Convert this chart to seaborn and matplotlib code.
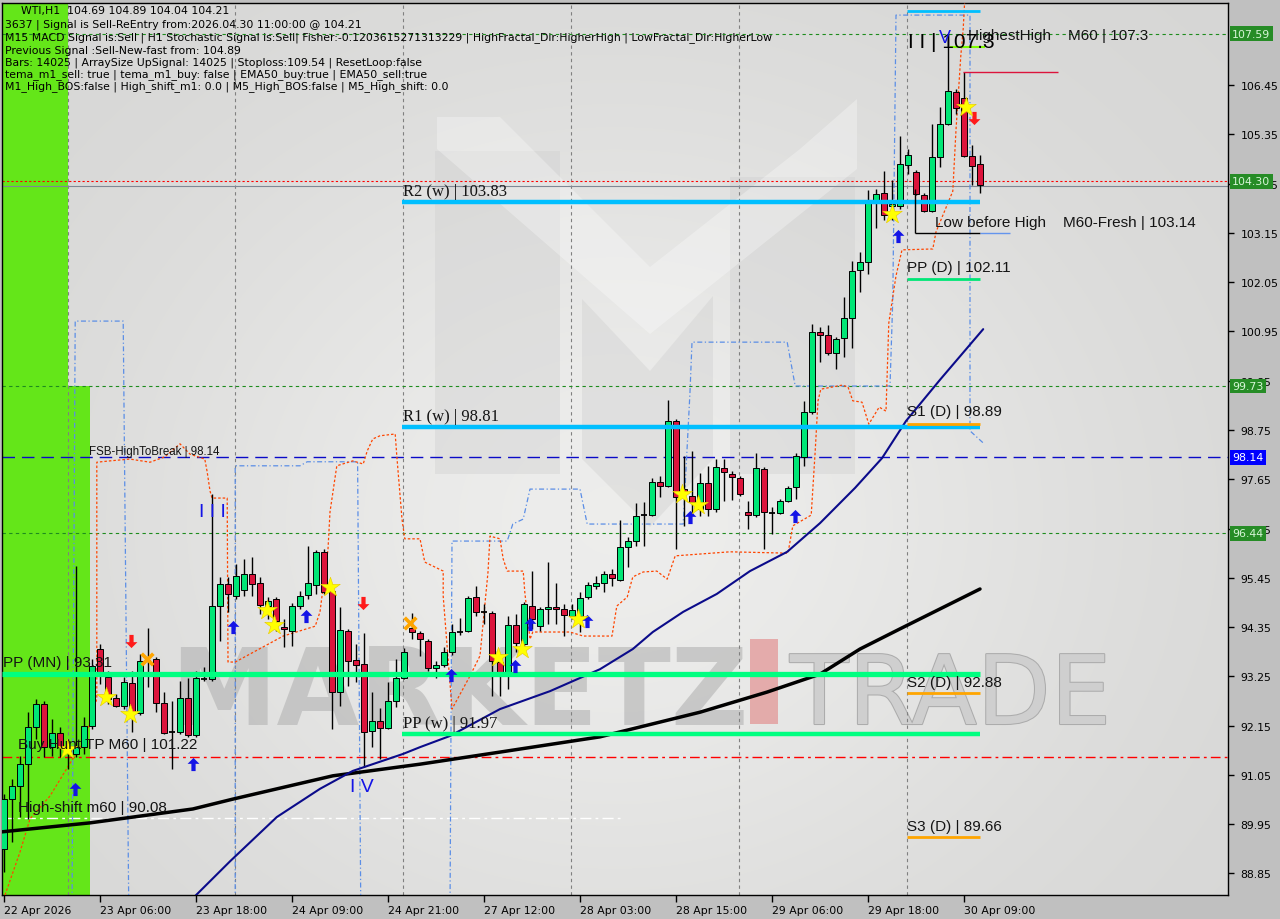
import numpy as np
import pandas as pd
import matplotlib
matplotlib.use("Agg")
import matplotlib.pyplot as plt
import seaborn as sns
from matplotlib.path import Path
from matplotlib.patches import Rectangle, Polygon
from matplotlib.transforms import blended_transform_factory
import matplotlib.patheffects as pe

# ---------------- data ----------------
opens = [89.40, 90.51, 90.80, 91.29, 92.12, 92.63, 91.67, 91.99, 91.67, 91.52,
         91.67, 92.14, 93.86, 93.24, 92.77, 92.59, 93.10, 92.43, 93.59, 93.64,
         92.66, 92.00, 92.01, 92.77, 91.94, 93.20, 93.19, 94.82, 95.31, 95.04,
         95.18, 95.54, 95.33, 94.82, 94.98, 94.35, 94.26, 94.82, 95.07, 95.29,
         96.03, 95.16, 92.90, 94.26, 93.62, 93.53, 92.03, 92.25, 92.10, 92.70,
         93.21, 94.33, 94.22, 94.04, 93.44, 93.50, 93.79, 94.23, 94.26, 95.02,
         94.68, 94.66, 93.57, 93.35, 94.40, 93.97, 94.82, 94.37, 94.75, 94.80,
         94.75, 94.60, 94.60, 95.02, 95.27, 95.33, 95.54, 95.40, 96.14, 96.27,
         96.85, 96.85, 97.59, 97.50, 98.95, 97.43, 97.28, 96.99, 97.57, 96.99,
         97.90, 97.77, 97.68, 96.92, 96.85, 97.88, 96.90, 96.90, 97.16, 97.48,
         98.15, 99.15, 100.94, 100.87, 100.47, 100.80, 101.25, 102.32, 102.50, 103.88,
         104.04, 103.75, 103.75, 104.67, 104.51, 104.00, 103.64, 104.84, 105.58, 106.29,
         106.16, 104.87, 104.69]
highs = [90.62, 90.96, 91.47, 92.45, 92.75, 92.70, 92.30, 92.12, 91.85, 95.71,
         92.34, 93.64, 93.97, 93.37, 92.86, 93.24, 93.37, 93.75, 94.33, 93.68,
         92.90, 92.70, 93.15, 93.21, 93.37, 93.46, 97.32, 95.47, 95.47, 95.76,
         95.87, 95.92, 95.47, 95.02, 95.02, 94.53, 94.89, 95.16, 96.16, 96.07,
         96.09, 95.31, 94.80, 94.31, 93.97, 94.22, 92.90, 92.54, 93.12, 93.64,
         93.88, 94.66, 94.26, 94.08, 93.59, 93.91, 94.42, 94.55, 95.04, 95.27,
         94.87, 94.71, 93.75, 94.60, 94.64, 94.91, 95.60, 94.80, 95.80, 95.33,
         94.87, 94.87, 95.13, 95.36, 95.49, 95.60, 95.65, 96.74, 96.36, 97.12,
         97.14, 97.68, 97.72, 99.42, 98.99, 98.17, 98.28, 97.79, 97.94, 98.10,
         98.10, 97.83, 97.72, 97.16, 98.24, 97.92, 97.03, 97.21, 97.50, 98.24,
         99.40, 101.12, 101.05, 101.09, 100.83, 101.72, 102.52, 102.72, 104.11, 104.13,
         104.53, 104.33, 105.31, 105.02, 104.55, 104.04, 105.58, 105.96, 107.30, 106.36,
         106.74, 105.11, 104.89]
lows = [88.88, 89.55, 90.11, 90.07, 91.85, 91.45, 91.47, 91.45, 91.18, 91.45,
        91.52, 92.08, 93.08, 92.63, 92.57, 92.52, 92.01, 92.39, 93.01, 92.45,
        91.96, 91.18, 91.96, 91.90, 91.90, 93.15, 93.15, 94.04, 94.69, 94.98,
        95.04, 95.04, 94.64, 94.53, 94.26, 93.91, 93.93, 94.75, 94.98, 95.09,
        95.09, 92.08, 92.59, 93.04, 93.12, 91.23, 91.67, 91.41, 92.08, 92.57,
        93.19, 94.08, 93.70, 93.37, 93.21, 93.46, 93.73, 94.17, 94.24, 94.60,
        94.42, 92.81, 92.81, 92.97, 93.79, 93.86, 94.31, 94.26, 94.42, 94.42,
        94.15, 94.53, 94.24, 94.98, 95.20, 95.13, 95.27, 95.38, 95.69, 96.16,
        96.16, 96.83, 97.25, 97.48, 96.09, 96.61, 96.87, 96.83, 96.83, 96.92,
        97.16, 97.19, 97.28, 96.54, 96.81, 96.09, 96.43, 96.87, 97.14, 97.21,
        97.95, 99.11, 100.27, 100.42, 100.11, 100.38, 100.58, 101.83, 102.23, 103.26,
        103.44, 103.44, 103.68, 104.46, 104.00, 103.62, 103.62, 104.62, 105.56, 105.80,
        104.84, 104.22, 104.04]
closes = [90.51, 90.80, 91.29, 92.12, 92.63, 91.67, 91.99, 91.67, 91.58, 91.67,
          92.14, 93.48, 93.35, 92.75, 92.59, 93.12, 92.45, 93.59, 93.60, 92.66,
          91.99, 92.00, 92.77, 91.94, 93.21, 93.20, 94.82, 95.31, 95.09, 95.49,
          95.54, 95.31, 94.84, 94.93, 94.49, 94.31, 94.82, 95.04, 95.33, 96.03,
          95.13, 92.90, 94.29, 93.59, 93.50, 92.01, 92.25, 92.10, 92.70, 93.21,
          93.79, 94.24, 94.08, 93.44, 93.50, 93.79, 94.24, 94.23, 95.00, 94.69,
          94.68, 93.59, 93.35, 94.40, 93.99, 94.87, 94.53, 94.75, 94.80, 94.75,
          94.62, 94.73, 95.00, 95.29, 95.33, 95.54, 95.45, 96.14, 96.27, 96.83,
          96.85, 97.59, 97.50, 98.95, 97.25, 97.34, 97.14, 97.57, 96.99, 97.92,
          97.81, 97.70, 97.32, 96.85, 97.90, 96.92, 96.90, 97.16, 97.46, 98.17,
          99.15, 100.94, 100.87, 100.47, 100.78, 101.25, 102.30, 102.50, 103.88, 104.02,
          103.55, 103.79, 104.69, 104.89, 104.02, 103.64, 104.84, 105.58, 106.32, 105.94,
          104.87, 104.64, 104.21]

tick_idx = [0, 12, 24, 36, 48, 60, 72, 84, 96, 108, 120]
tick_labels = ["22 Apr 2026", "23 Apr 06:00", "23 Apr 18:00", "24 Apr 09:00",
               "24 Apr 21:00", "27 Apr 12:00", "28 Apr 03:00", "28 Apr 15:00",
               "29 Apr 06:00", "29 Apr 18:00", "30 Apr 09:00"]
price_ticks = [88.85, 89.95, 91.05, 92.15, 93.25, 94.35, 95.45, 96.55, 97.65,
               98.75, 99.85, 100.95, 102.05, 103.15, 104.25, 105.35, 106.45]
day_separators = [8.0, 28.9, 49.9, 70.9, 91.9, 112.9]

ema_x = [22.5, 28.3, 34.1, 39.5, 43.6, 49.9, 52.0, 55.75, 62.0, 68.25, 74.5, 78.6,
         81.1, 84.9, 89.1, 93.25, 97.9, 102.0, 106.4, 109.75, 112.75, 117.0, 122.4]
ema_y = [88.10, 89.13, 90.11, 90.74, 91.14, 91.52, 91.67, 91.92, 92.52, 92.92, 93.41,
         93.86, 94.24, 94.69, 95.09, 95.60, 96.03, 96.67, 97.46, 98.12, 98.95, 99.87, 101.00]
sma_x = [-0.25, 10.75, 23.6, 28.6, 41.1, 52.0, 62.0, 74.5, 87.0, 95.4, 102.0, 107.0, 112.0, 122.0]
sma_y = [89.78, 89.98, 90.29, 90.51, 91.03, 91.29, 91.56, 91.90, 92.45, 92.90, 93.30, 93.86, 94.31, 95.20]

blueA_x = [8.5, 8.9, 14.9, 15.6]
blueA_y = [88.0, 101.18, 101.18, 88.0]
blueB_x = [28.9, 28.9, 37.0, 37.9, 44.2, 44.6]
blueB_y = [88.0, 97.95, 97.95, 98.04, 98.04, 88.0]
blueC_x = [55.75, 56.0, 62.9, 63.6, 64.9, 65.75, 72.0, 72.9, 84.9, 85.75, 86.0, 97.9,
           98.9, 110.75, 111.1, 111.5, 120.75, 120.75, 122.4]
blueC_y = [88.0, 96.27, 96.27, 96.65, 96.76, 97.43, 97.43, 96.65, 96.65, 99.60, 100.71,
           100.71, 99.73, 99.73, 101.67, 108.01, 108.01, 98.73, 98.46]
orange_x = [0.125, 2.0, 3.25, 5.75, 10.1, 11.6, 11.6, 13.25, 15.75, 18.25, 20.1, 22.0,
            23.25, 25.1, 25.4, 25.75, 26.0, 27.9, 28.0, 28.9, 34.9, 38.9, 39.5, 40.5,
            40.75, 41.6, 43.6, 44.9, 45.4, 46.1, 47.0, 48.9, 49.1, 49.75, 50.1, 52.0,
            52.6, 54.9, 54.9, 56.0, 58.25, 59.5, 60.5, 60.75, 62.0, 62.4, 62.9, 64.9,
            65.1, 65.75, 66.1, 70.75, 72.4, 76.0, 76.6, 77.9, 78.6, 79.9, 81.6, 82.9,
            83.9, 90.75, 98.0, 98.6, 100.9, 101.4, 101.75, 102.1, 104.75, 105.5, 106.1,
            107.25, 108.1, 109.4, 110.25, 110.6, 111.5, 112.25, 116.1, 116.5, 118.6,
            119.0, 119.6, 119.9, 120.1]
orange_y = [88.37, 89.33, 90.07, 90.58, 91.85, 92.75, 98.03, 98.06, 98.10, 98.03, 98.15,
            98.44, 98.21, 98.10, 97.81, 97.39, 97.23, 97.23, 93.57, 93.57, 94.15, 94.37,
            94.69, 96.09, 96.92, 97.95, 98.06, 97.99, 98.28, 98.55, 98.62, 98.66, 98.17,
            96.76, 96.32, 96.32, 95.80, 95.60, 95.04, 92.52, 93.26, 93.71, 95.58, 96.38,
            96.32, 95.87, 95.60, 95.60, 95.13, 94.08, 94.24, 94.24, 94.15, 94.15, 94.82,
            95.02, 95.47, 95.58, 95.60, 95.42, 95.94, 96.03, 96.00, 96.61, 96.85, 98.28,
            99.40, 99.66, 99.75, 99.71, 99.40, 99.37, 98.88, 99.26, 99.17, 101.14, 102.19,
            102.77, 102.79, 103.17, 104.08, 105.45, 107.10, 107.70, 108.37]

up_x = [8.9, 23.6, 28.6, 37.75, 55.9, 63.9, 65.75, 72.9, 85.75, 98.9, 111.75]
up_y = [90.73, 91.29, 94.35, 94.60, 93.28, 93.48, 94.42, 94.49, 96.81, 96.83, 103.08]
down_x = [15.9, 44.9, 121.2]
down_y = [94.04, 94.89, 105.72]
star_x = [7.9, 12.75, 15.75, 32.9, 33.75, 40.75, 61.75, 64.75, 71.75, 84.75, 86.75, 111.0, 120.25]
star_y = [91.63, 92.79, 92.41, 94.73, 94.40, 95.24, 93.68, 93.86, 94.53, 97.32, 97.07, 103.57, 105.96]
cross_x = [17.9, 50.75]
cross_y = [93.64, 94.44]

info_lines = [
    "WTI,H1  104.69 104.89 104.04 104.21",
    "3637 | Signal is Sell-ReEntry from:2026.04.30 11:00:00 @ 104.21",
    "M15 MACD Signal is:Sell | H1 Stochastic Signal is:Sell| Fisher:-0.1203615271313229 | HighFractal_Dir:HigherHigh | LowFractal_Dir:HigherLow",
    "Previous Signal :Sell-New-fast from: 104.89",
    "Bars: 14025 | ArraySize UpSignal: 14025 | Stoploss:109.54 | ResetLoop:false",
    "tema_m1_sell: true | tema_m1_buy: false | EMA50_buy:true | EMA50_sell:true",
    "M1_High_BOS:false | High_shift_m1: 0.0 | M5_High_BOS:false | M5_High_shift: 0.0",
]

# ---------------- figure ----------------
sns.set_theme(style="white")
plt.rcParams['font.family'] = ['DejaVu Sans']

W, H = 1280, 920
fig = plt.figure(figsize=(12.8, 9.2), dpi=100, facecolor='#c0c0c0')
ax = fig.add_axes([2 / W, 24 / H, 1226 / W, 892 / H])
X0, X1 = -0.25, 153.0
Y0, Y1 = 88.37, 108.28

# background gradient
gx = np.linspace(0, 1, 320)
gy = np.linspace(0, 1, 240)
GX, GY = np.meshgrid(gx, gy)
v = 0.835 + 0.095 * np.exp(-(((GX - 0.50) / 0.42) ** 2 + ((GY - 0.58) / 0.50) ** 2))
img = np.dstack([v, v, v * 0.995])
ax.imshow(img, extent=[X0, X1, Y0, Y1], aspect='auto', origin='upper', zorder=0,
          interpolation='bilinear')


def axp(px, py):
    return ((px - 2) / 1226.0, 1 - (py - 4) / 892.0)


# watermark logo
logo_col = '#cfcfcf'
for poly, col, al in [
    ([(435, 152), (560, 152), (560, 475), (435, 475)], logo_col, 0.4),
    ([(730, 178), (855, 178), (855, 475), (730, 475)], logo_col, 0.4),
    ([(582, 300), (650, 372), (713, 297), (713, 460), (650, 528), (582, 460)], logo_col, 0.4),
    ([(437, 118), (500, 118), (650, 268), (800, 150), (857, 100), (857, 170), (650, 335), (437, 150)], 'white', 0.3),
]:
    ax.add_patch(Polygon([axp(*p) for p in poly], closed=True, transform=ax.transAxes,
                         fc=col, ec='none', alpha=al, zorder=1))

ax.text(*axp(170, 725), 'MARKETZ', transform=ax.transAxes, fontsize=77, fontweight='bold',
        color='#b4b4b4', alpha=0.62, ha='left', va='baseline', zorder=1)
ax.add_patch(Rectangle(axp(750, 725), 28 / 1226, 85 / 892, transform=ax.transAxes,
                       fc='#e39c9c', ec='none', alpha=0.8, zorder=1))
ax.text(*axp(790, 725), 'TRADE', transform=ax.transAxes, fontsize=69, color='#cfcfcf',
        ha='left', va='baseline', zorder=1,
        path_effects=[pe.withStroke(linewidth=1.5, foreground='#acacac')])

# green session blocks
ax.add_patch(Rectangle((X0, Y0), 8.0 - X0, Y1 - Y0, fc='#64e619', ec='none', zorder=1))
ax.add_patch(Rectangle((8.0, Y0), 2.75, 99.73 - Y0, fc='#64e619', ec='none', zorder=1))

# separators and level lines
for s in day_separators:
    ax.axvline(s, color='#808080', lw=0.8, ls=(0, (3, 3)), zorder=2)
for p in [107.59, 99.73, 96.44]:
    ax.axhline(p, color='#1e8c1e', lw=0.8, ls=(0, (3, 3)), zorder=2)
ax.axhline(104.30, color='#ff0000', lw=0.8, ls=(0, (2, 2)), zorder=2)
ax.axhline(104.20, color='#7f8894', lw=0.8, zorder=2)
ax.axhline(98.14, color='#0a0ac8', lw=1.0, ls=(0, (9, 5)), zorder=2)
ax.axhline(91.45, color='#ff0000', lw=1.0, ls=(0, (7, 3, 2, 3)), zorder=2)
ax.hlines(90.08, X0, 77, color='white', lw=1.0, ls=(0, (8, 3, 2, 3)), zorder=2)

# channel lines
for cx, cy in [(blueA_x, blueA_y), (blueB_x, blueB_y), (blueC_x, blueC_y)]:
    ax.plot(cx, cy, color='#5b8ee6', lw=0.9, ls=(0, (4, 2, 1, 2)), zorder=3)
ax.plot(orange_x, orange_y, color='#ff4500', lw=0.9, ls=(0, (2, 1.6)), zorder=3)

# candles
green_c, red_c = '#00e676', '#dc143c'
for i in range(len(opens)):
    o, h, l, c = opens[i], highs[i], lows[i], closes[i]
    ax.vlines(i, l, h, color='black', lw=1.0, zorder=5)
    if abs(c - o) < 0.03:
        ax.hlines(o, i - 0.38, i + 0.38, color='black', lw=1.3, zorder=5)
    else:
        ax.bar(i, c - o, bottom=o, width=0.76, color=green_c if c > o else red_c,
               edgecolor='black', linewidth=0.7, zorder=5)

# moving averages (seaborn)
sns.lineplot(x=sma_x, y=sma_y, ax=ax, color='black', lw=2.5, estimator=None,
             sort=False, legend=False, zorder=6)
sns.lineplot(x=ema_x, y=ema_y, ax=ax, color='#0b0b8a', lw=1.5, estimator=None,
             sort=False, legend=False, zorder=6)

# pivot lines
ax.hlines([103.83, 98.81], 49.75, 122, color='#00bfff', lw=3.2, zorder=6)
ax.hlines(91.97, 49.75, 122, color='#00ff80', lw=3.2, zorder=6)
ax.hlines(93.31, X0, 122, color='#00ff80', lw=3.8, zorder=6)
ax.hlines(102.11, 112.9, 122, color='#00e676', lw=2.0, zorder=6)
ax.hlines([98.89, 92.88, 89.66], 112.9, 122, color='#ffa500', lw=2.0, zorder=6)
ax.hlines(108.10, 112.9, 122, color='#00bfff', lw=2.0, zorder=6)

# small structure lines
ax.hlines(107.30, 118.25, 122.6, color='#7cfc00', lw=1.5, zorder=6)
ax.hlines(106.74, 119.9, 131.75, color='#dc143c', lw=1.0, zorder=6)
ax.vlines(113.9, 103.14, 104.13, color='black', lw=1.0, zorder=6)
ax.hlines(103.14, 113.9, 122, color='black', lw=1.0, zorder=6)
ax.hlines(103.14, 122, 125.75, color='#6495ed', lw=1.0, zorder=6)

# markers
up_path = Path([(0, 1), (-0.9, 0.1), (-0.32, 0.1), (-0.32, -1), (0.32, -1), (0.32, 0.1),
                (0.9, 0.1), (0, 1)], closed=True)
down_path = Path([(0, -1), (-0.9, -0.1), (-0.32, -0.1), (-0.32, 1), (0.32, 1), (0.32, -0.1),
                  (0.9, -0.1), (0, -1)], closed=True)
ax.scatter(up_x, up_y, marker=up_path, s=90, color='#1414e6', linewidths=0, zorder=7)
ax.scatter(down_x, down_y, marker=down_path, s=90, color='#ff1a1a', linewidths=0, zorder=7)
ax.scatter(star_x, star_y, marker='*', s=220, color='#ffff00', edgecolors='#e8c800',
           linewidths=0.4, zorder=7)
ax.scatter(cross_x, cross_y, marker='x', s=70, color='#ffa500', linewidths=2.6, zorder=7)

# labels
sans = 'Liberation Sans'
serif = 'Liberation Serif'
tcol = '#141414'
ax.text(49.9, 104.08, 'R2 (w) | 103.83', family=serif, fontsize=12, color=tcol, va='center', zorder=8)
ax.text(49.9, 99.06, 'R1 (w) | 98.81', family=serif, fontsize=12, color=tcol, va='center', zorder=8)
ax.text(49.9, 92.21, 'PP (w) | 91.97', family=serif, fontsize=12, color=tcol, va='center', zorder=8)
ax.text(-0.1, 93.57, 'PP (MN) | 93.31', family=sans, fontsize=11, color=tcol, va='center', zorder=8)
ax.text(112.9, 102.39, 'PP (D) | 102.11', family=sans, fontsize=11, color=tcol, va='center', zorder=8)
ax.text(112.9, 99.17, 'S1 (D) | 98.89', family=sans, fontsize=11, color=tcol, va='center', zorder=8)
ax.text(112.9, 93.12, 'S2 (D) | 92.88', family=sans, fontsize=11, color=tcol, va='center', zorder=8)
ax.text(112.9, 89.91, 'S3 (D) | 89.66', family=sans, fontsize=11, color=tcol, va='center', zorder=8)
ax.text(116.4, 103.39, 'Low before High    M60-Fresh | 103.14', family=sans, fontsize=11,
        color=tcol, va='center', zorder=8)
ax.text(120.5, 107.57, 'HighestHigh    M60 | 107.3', family=sans, fontsize=11, color=tcol,
        va='center', zorder=8)
ax.text(113.0, 107.43, 'I I | 107.3', family=sans, fontsize=15, color='black', va='center', zorder=8)
ax.text(117.6, 107.50, 'V', family=sans, fontsize=13, color='#1414e6', va='center', ha='center', zorder=8)
ax.text(1.75, 91.74, 'Buy Hunt TP M60 | 101.22', family=sans, fontsize=11, color=tcol, va='center', zorder=8)
ax.text(1.75, 90.33, 'High-shift m60 | 90.08', family=sans, fontsize=11, color=tcol, va='center', zorder=8)
ax.text(10.6, 98.28, 'FSB-HighToBreak | 98.14', family=sans, fontsize=8.3, color=tcol, va='center', zorder=8)
ax.text(26.0, 96.94, 'I I I', family=sans, fontsize=14, color='#1414e6', va='center', ha='center', zorder=8)
ax.text(44.75, 90.80, 'I V', family=sans, fontsize=14, color='#1414e6', va='center', ha='center', zorder=8)

# axes styling
ax.set_xlim(X0, X1)
ax.set_ylim(Y0, Y1)
ax.grid(False)
for sp in ax.spines.values():
    sp.set_color('black')
    sp.set_linewidth(1.0)
    sp.set_visible(True)
ax.yaxis.tick_right()
ax.set_yticks(price_ticks)
ax.set_yticklabels([f'{p:.2f}' for p in price_ticks])
ax.tick_params(axis='y', direction='out', length=4, width=1, labelsize=7.8, pad=5,
               colors='black', right=True, left=False)
ax.set_xticks(tick_idx)
ax.set_xticklabels(tick_labels, ha='left')
ax.tick_params(axis='x', direction='out', length=5, width=1, labelsize=7.8, pad=2,
               colors='black', bottom=True)
ax.set_xlabel('')
ax.set_ylabel('')

# right-axis price boxes
btr = blended_transform_factory(ax.transAxes, ax.transData)
for p, fc, tc in [(107.59, '#268c26', '#d6f5d6'), (104.30, '#268c26', '#d6f5d6'),
                  (99.73, '#268c26', '#d6f5d6'), (96.44, '#268c26', '#d6f5d6'),
                  (98.14, '#0000ff', 'white')]:
    ax.text(1.0035, p, f'{p:.2f}', transform=btr, ha='left', va='center', fontsize=7.9,
            color=tc, clip_on=False, zorder=10,
            bbox=dict(boxstyle='square,pad=0.22', fc=fc, ec='none'))

# top-left info block
ys = [11, 25, 38, 51, 63, 75, 87]
for k, (line, yy) in enumerate(zip(info_lines, ys)):
    xx = 21 if k == 0 else 5
    fig.text(xx / W, 1 - yy / H, line, fontsize=7.85, color='black', ha='left', va='center',
             family='DejaVu Sans')

fig.savefig('out.png', dpi=100, facecolor=fig.get_facecolor())
